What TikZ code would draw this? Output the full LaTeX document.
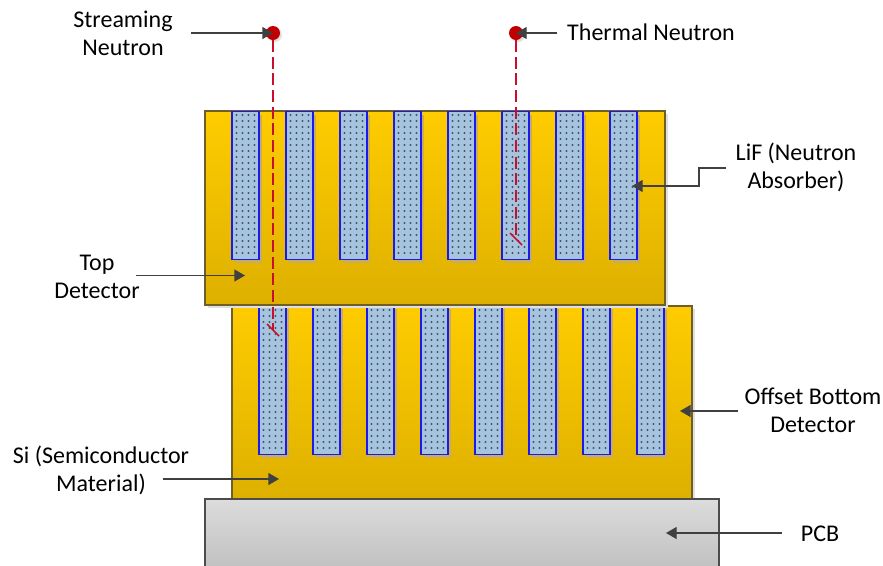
\documentclass[tikz,border=0pt]{standalone}
\usepackage{fontspec}
\setmainfont{Carlito}
\usetikzlibrary{arrows.meta,shadows}
\definecolor{goldtop}{HTML}{FFCC00}
\definecolor{goldbot}{HTML}{DDB000}
\definecolor{goldline}{HTML}{6E5F2A}
\definecolor{slotfill}{HTML}{A6C4E0}
\definecolor{slotline}{HTML}{1A1AEE}
\definecolor{slotshadow}{HTML}{C8AE5C}
\definecolor{dotcol}{HTML}{4A5563}
\definecolor{pcbtop}{HTML}{DCDCDC}
\definecolor{pcbbot}{HTML}{BEBEBE}
\definecolor{arrowcol}{HTML}{404040}
\definecolor{neutron}{HTML}{C00000}
\definecolor{neutronline}{HTML}{C8102E}
\tikzset{
  lbl/.style={align=center,font=\fontsize{18}{21}\selectfont,text=black,inner sep=0pt},
  detector/.style={draw=goldline,line width=.8pt,top color=goldtop,bottom color=goldbot,
    minimum width=345pt,inner sep=0pt,outer sep=0pt,
    drop shadow={shadow xshift=2.5pt,shadow yshift=-2.5pt,fill=black!12,opacity=1}},
  pcbbox/.style={draw=black!70,line width=.8pt,top color=pcbtop,bottom color=pcbbot,
    minimum width=385.5pt,minimum height=57pt,inner sep=0pt,outer sep=0pt},
  slotbox/.style={draw=slotline,line width=.8pt,fill=slotfill,minimum width=20.25pt,
    minimum height=111.5pt,inner sep=0pt,outer sep=0pt,
    drop shadow={shadow xshift=2.5pt,shadow yshift=-2.5pt,fill=slotshadow,opacity=1}},
  neutronball/.style={circle,fill=neutron,minimum size=10.5pt,inner sep=0pt,outer sep=0pt,
    drop shadow={shadow xshift=1.5pt,shadow yshift=-1.5pt,fill=black!12,opacity=1}},
  callout/.style={draw=arrowcol,line width=1pt,-{Triangle[length=8pt,width=9pt]}},
  track/.style={draw=neutronline,line width=1.1pt,dash pattern=on 9pt off 3.5pt},
  stopmark/.style={draw=neutronline,line width=1.1pt}
}
\newcommand{\slotdots}[2]{%
  \foreach \dx in {4.5,10.5,16.5,22.5}{%
    \foreach \yy in {#2}{%
      \fill[dotcol] ({#1+\dx},{\yy}) circle[radius=.85pt];
    }%
  }%
}
\begin{document}
\begin{tikzpicture}[x=.75pt,y=-.75pt]
\clip (0,0) rectangle (883,565);
% bottom detector
\node[detector,minimum height=144.75pt] (bottomdet) at (462,402.5) {};
\foreach \i in {0,...,7}{
  \pgfmathsetmacro{\cx}{272.5+54*\i}
  \pgfmathsetmacro{\lx}{259+54*\i}
  \node[slotbox] (b\i) at (\cx,380) {};
  \slotdots{\lx}{310,316,...,452}
}
% top detector
\node[detector,minimum height=145.5pt] (topdet) at (435,208) {};
\foreach \i in {0,...,7}{
  \pgfmathsetmacro{\cx}{245.5+54*\i}
  \pgfmathsetmacro{\lx}{232+54*\i}
  \node[slotbox] (t\i) at (\cx,185.5) {};
  \slotdots{\lx}{115,121,...,258}
}
% PCB
\node[pcbbox] (pcb) at (462,537) {};
% neutrons
\node[neutronball] (streaming) at (273,33) {};
\node[neutronball] (thermal) at (516,33) {};
\coordinate (sstop) at (273,330);
\coordinate (tstop) at (516,239);
\coordinate (sa) at (267,324);
\coordinate (sb) at (279,336);
\coordinate (ta) at (510,233);
\coordinate (tb) at (522,245);
\draw[track] (streaming.south) -- (sstop);
\draw[track] (thermal.south) -- (tstop);
\draw[stopmark] (sa) -- (sb);
\draw[stopmark] (ta) -- (tb);
% labels
\node[lbl] (lstreaming) at (123,33) {Streaming\\Neutron};
\node[lbl] (lthermal) at (651,32) {Thermal Neutron};
\node[lbl] (llif) at (796,167) {LiF (Neutron\\Absorber)};
\node[lbl] (ltop) at (97,277) {Top\\Detector};
\node[lbl] (loffset) at (813,410) {Offset Bottom\\Detector};
\node[lbl] (lsi) at (101,470) {Si (Semiconductor\\Material)};
\node[lbl] (lpcb) at (820,534) {PCB};
% callouts
\coordinate (c1) at (191,33);
\coordinate (c2) at (557,33);
\coordinate (c3) at (726,168);
\coordinate (c3a) at (699,168);
\coordinate (c3b) at (699,186);
\coordinate (c3t) at (632,186);
\coordinate (c4) at (136,275.5);
\coordinate (c4t) at (245,275.5);
\coordinate (c5) at (738,411);
\coordinate (c5t) at (680,411);
\coordinate (c6) at (163,479);
\coordinate (c6t) at (279,479);
\coordinate (c7) at (782,533);
\coordinate (c7t) at (666,533);
\draw[callout] (c1) -- (streaming.center);
\draw[callout] (c2) -- (thermal.center);
\draw[callout] (c3) -- (c3a) -- (c3b) -- (c3t);
\draw[callout] (c4) -- (c4t);
\draw[callout] (c5) -- (c5t);
\draw[callout] (c6) -- (c6t);
\draw[callout] (c7) -- (c7t);
\end{tikzpicture}
\end{document}
